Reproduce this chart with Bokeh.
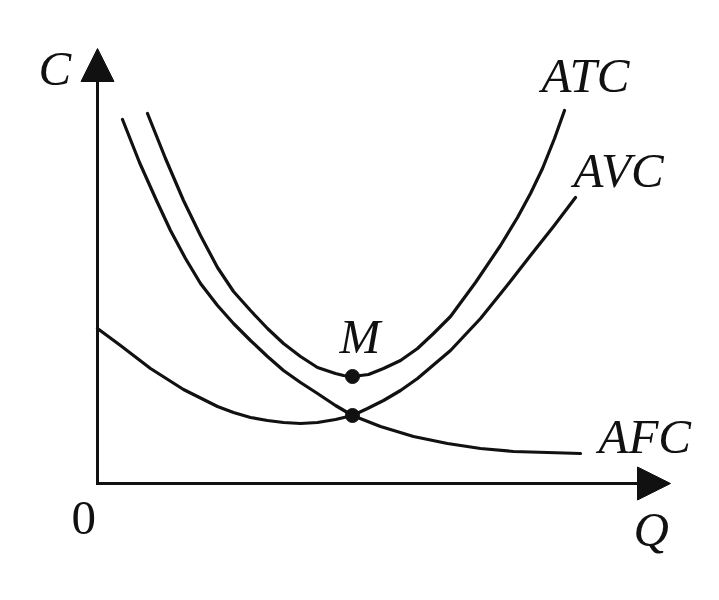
from bokeh.plotting import figure
from bokeh.models import Range1d, Arrow, NormalHead
from bokeh.core.properties import value
from bokeh.embed import file_html
from bokeh.resources import INLINE

# ---- data (units: Q horizontally, C vertically) ----
atc_q = [5.0, 6.8, 8.6, 10.3, 12.0, 13.6, 15.3, 17.0, 18.6, 20.3, 22.0, 23.8, 24.6, 25.5,
         26.3, 27.1, 28.6, 30.3, 32.0, 33.6, 35.3, 37.8, 40.3, 42.0, 43.3, 44.5, 45.7, 46.7]
atc_c = [37.0, 32.5, 28.3, 24.8, 21.6, 19.2, 17.3, 15.5, 14.0, 12.7, 11.6, 11.0, 10.8, 10.7,
         10.8, 10.9, 11.5, 12.3, 13.5, 15.0, 16.7, 20.1, 23.8, 26.6, 29.0, 31.5, 34.5, 37.3]

afc_q = [2.5, 4.2, 5.9, 7.3, 8.8, 10.3, 12.0, 13.6, 15.3, 17.0, 18.6, 20.3, 22.0,
         23.8, 25.5, 28.3, 31.6, 35.0, 38.3, 41.6, 45.0, 48.3]
afc_c = [36.4, 32.1, 28.3, 25.3, 22.5, 20.0, 17.8, 16.0, 14.3, 12.7, 11.3, 10.1, 9.0,
         7.8, 6.8, 5.7, 4.7, 4.0, 3.5, 3.2, 3.1, 3.0]

avc_q = [0.0, 2.3, 5.3, 8.6, 12.0, 13.6, 15.3, 17.0, 18.6, 20.3, 22.0, 23.8, 25.5, 27.0,
         28.6, 30.3, 32.0, 35.3, 38.3, 40.8, 43.3, 45.6, 47.8]
avc_c = [15.5, 13.8, 11.5, 9.4, 7.7, 7.1, 6.6, 6.3, 6.1, 6.0, 6.1, 6.4, 6.8, 7.5,
         8.3, 9.3, 10.5, 13.3, 16.5, 19.6, 22.8, 25.7, 28.6]

point_q = [25.5, 25.5]
point_c = [10.7, 6.8]

q_axis_end = 57.3
c_axis_end = 43.5

label_text = ["C", "ATC", "AVC", "AFC", "Q", "M"]
label_q = [-5.9, 44.4, 47.6, 50.1, 53.6, 24.2]
label_c = [41.5, 40.8, 31.3, 4.7, -4.6, 14.7]

origin_text = ["0"]
origin_q = [-2.6]
origin_c = [-3.4]

INK = "#111111"

p = figure(width=703, height=584, output_backend="svg", toolbar_location=None,
           x_range=Range1d(-9.7, 60.6), y_range=Range1d(-10.1, 48.3),
           x_axis_type=None, y_axis_type=None, min_border=0)
p.grid.visible = False
p.outline_line_color = None
p.background_fill_color = "white"
p.border_fill_color = "white"

# axes
p.line([0, 0, q_axis_end - 2.0], [c_axis_end - 2.0, 0, 0], line_color=INK,
       line_width=3, line_join="miter")
for xs, ys, xe, ye in [(0, c_axis_end - 3.0, 0, c_axis_end),
                       (q_axis_end - 3.0, 0, q_axis_end, 0)]:
    p.add_layout(Arrow(end=NormalHead(size=33, fill_color=INK, line_color=INK, line_width=1),
                       x_start=xs, y_start=ys, x_end=xe, y_end=ye,
                       line_alpha=0))

# curves
for qs, cs in [(atc_q, atc_c), (afc_q, afc_c), (avc_q, avc_c)]:
    p.line(qs, cs, line_color=INK, line_width=3.2, line_join="round", line_cap="round")

p.scatter(point_q, point_c, size=14, fill_color=INK, line_color=INK)

p.text(x=label_q, y=label_c, text=label_text, text_font=value("Liberation Serif"),
       text_font_style="italic", text_font_size="49px", text_color=INK,
       text_align="left", text_baseline="alphabetic")
p.text(x=origin_q, y=origin_c, text=origin_text, text_font=value("Liberation Serif"),
       text_font_size="49px", text_color=INK,
       text_align="left", text_baseline="alphabetic")

open("out.html", "w").write(file_html(p, INLINE))
